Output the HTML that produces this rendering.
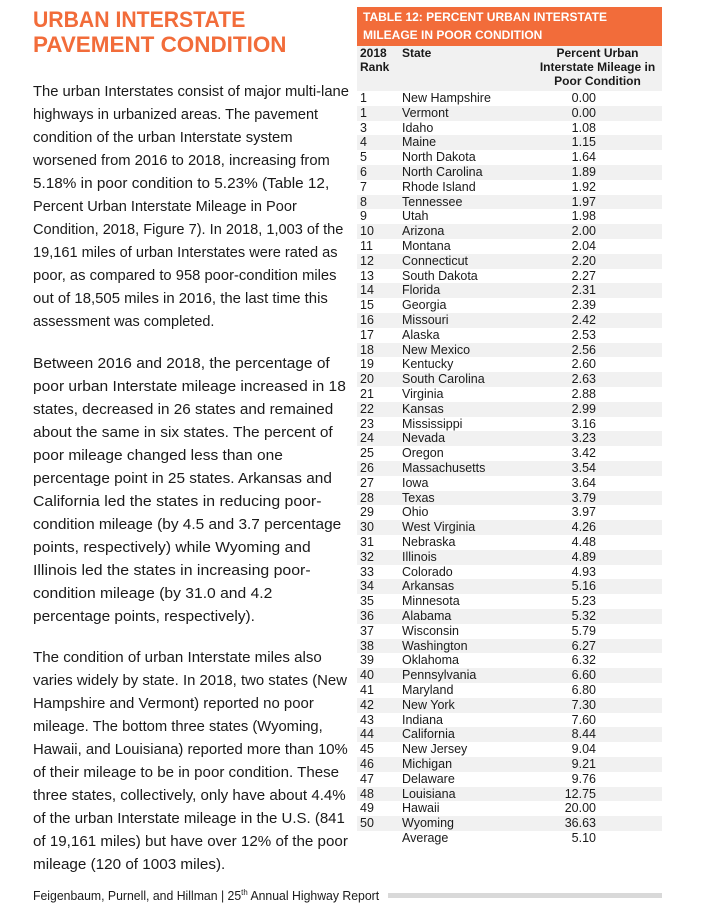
<!DOCTYPE html>
<html><head><meta charset="utf-8"><style>
body{margin:0;width:707px;height:908px;background:#fff;position:relative;overflow:hidden;font-family:"Liberation Sans",sans-serif;color:#1a1a1a}
.t{position:absolute;left:33px;color:#f26c3a;font-weight:bold;font-size:22px;white-space:nowrap;transform-origin:0 50%;line-height:24px}
.l{position:absolute;left:33px;font-size:15px;white-space:nowrap;transform-origin:0 50%;line-height:18px;color:#1a1a1a}
#tbl{position:absolute;left:357px;top:7px;width:305px}
.hd{background:#f26c3a;color:#fff;font-weight:bold;font-size:12px;height:39px;position:relative}
.hd div{position:absolute;left:6px;white-space:nowrap}
.gh{background:#f1f1f1;height:45px;position:relative;font-weight:bold;font-size:12px}
.gh div{position:absolute;white-space:nowrap;line-height:14px}
.r{position:absolute;left:357px;width:305px;height:14.8px;font-size:12.5px;line-height:14.8px}
.r span{position:absolute;white-space:nowrap}
</style></head><body>
<div class="t" style="top:8px">URBAN INTERSTATE</div>
<div class="t" style="top:33px">PAVEMENT CONDITION</div>
<div id="body"></div>
<div id="tbl">
<div class="hd"><div style="top:3px">TABLE 12: PERCENT URBAN INTERSTATE</div><div style="top:21px">MILEAGE IN POOR CONDITION</div></div>
<div class="gh">
<div style="left:3px;top:0">2018<br>Rank</div>
<div style="left:45px;top:0">State</div>
<div style="left:178px;width:125px;text-align:center;top:0">Percent Urban<br>Interstate Mileage in<br>Poor Condition</div>
</div></div>
<div id="rows"></div>
<div id="foot" style="position:absolute;left:33px;top:888px;font-size:12.5px;white-space:nowrap;transform-origin:0 50%">Feigenbaum, Purnell, and Hillman | 25<sup style="font-size:8px">th</sup> Annual Highway Report</div>
<div style="position:absolute;left:388px;top:893px;width:274px;height:5px;background:#d9d9d9"></div>
<script>
const ranks=[1,1,3,4,5,6,7,8,9,10,11,12,13,14,15,16,17,18,19,20,21,22,23,24,25,26,27,28,29,30,31,32,33,34,35,36,37,38,39,40,41,42,43,44,45,46,47,48,49,50];
const states=["New Hampshire","Vermont","Idaho","Maine","North Dakota","North Carolina","Rhode Island","Tennessee","Utah","Arizona","Montana","Connecticut","South Dakota","Florida","Georgia","Missouri","Alaska","New Mexico","Kentucky","South Carolina","Virginia","Kansas","Mississippi","Nevada","Oregon","Massachusetts","Iowa","Texas","Ohio","West Virginia","Nebraska","Illinois","Colorado","Arkansas","Minnesota","Alabama","Wisconsin","Washington","Oklahoma","Pennsylvania","Maryland","New York","Indiana","California","New Jersey","Michigan","Delaware","Louisiana","Hawaii","Wyoming"];
const values=["0.00","0.00","1.08","1.15","1.64","1.89","1.92","1.97","1.98","2.00","2.04","2.20","2.27","2.31","2.39","2.42","2.53","2.56","2.60","2.63","2.88","2.99","3.16","3.23","3.42","3.54","3.64","3.79","3.97","4.26","4.48","4.89","4.93","5.16","5.23","5.32","5.79","6.27","6.32","6.60","6.80","7.30","7.60","8.44","9.04","9.21","9.76","12.75","20.00","36.63"];
const average="5.10";
const rowsEl=document.getElementById('rows');
function addRow(i,rk,st,val,name){
 const r=document.createElement('div');
 
 
 r.className='r';
 r.style.top=(91+i*14.8)+'px';
 if(i%2===1&&rk!=='')r.style.background='#f1f1f1';
 r.innerHTML='<span style="left:3px">'+rk+'</span><span style="left:45px">'+st+'</span><span style="right:66px">'+val+'</span>';
 rowsEl.appendChild(r);
}
for(let i=0;i<states.length;i++)addRow(i,ranks[i],states[i],values[i],'row-'+states[i].toLowerCase().replace(/ /g,'-'));
addRow(50,'','Average',average,'row-average');

const paras=[
[92,[["The urban Interstates consist of major multi-lane",349],["highways in urbanized areas. The pavement",318],["condition of the urban Interstate system",293],["worsened from 2016 to 2018, increasing from",330],["5.18% in poor condition to 5.23% (Table 12,",329],["Percent Urban Interstate Mileage in Poor",297],["Condition, 2018, Figure 7). In 2018, 1,003 of the",343],["19,161 miles of urban Interstates were rated as",338],["poor, as compared to 958 poor-condition miles",337],["out of 18,505 miles in 2016, the last time this",328],["assessment was completed.",214]]],
[364,[["Between 2016 and 2018, the percentage of",330],["poor urban Interstate mileage increased in 18",346],["states, decreased in 26 states and remained",333],["about the same in six states. The percent of",333],["poor mileage changed less than one",283],["percentage point in 25 states. Arkansas and",332],["California led the states in reducing poor-",322],["condition mileage (by 4.5 and 3.7 percentage",341],["points, respectively) while Wyoming and",311],["Illinois led the states in increasing poor-",311],["condition mileage (by 31.0 and 4.2",272],["percentage points, respectively).",255]]],
[658,[["The condition of urban Interstate miles also",322],["varies widely by state. In 2018, two states (New",347],["Hampshire and Vermont) reported no poor",314],["mileage. The bottom three states (Wyoming,",323],["Hawaii, and Louisiana) reported more than 10%",348],["of their mileage to be in poor condition. These",339],["three states, collectively, only have about 4.4%",346],["of the urban Interstate mileage in the U.S. (841",345],["of 19,161 miles) but have over 12% of the poor",348],["mileage (120 of 1003 miles).",225]]]];
const body=document.getElementById('body');
paras.forEach((p,pi)=>{p[1].forEach((ln,li)=>{
 const d=document.createElement('div');
 
 
 d.className='l';d.textContent=ln[0];
 d.style.top=(p[0]+li*23.0-9)+'px';
 body.appendChild(d);
 const w=d.scrollWidth;d.style.transform='scaleX('+((ln[1]-33)/w)+')';
});});
document.querySelectorAll('.t').forEach((t,i)=>{const w=t.scrollWidth;t.style.transform='scaleX('+((i?254:212)/w)+')';});
const f=document.getElementById('foot');f.style.transform='scaleX('+(346/f.scrollWidth)+')';
</script>
</body></html>
